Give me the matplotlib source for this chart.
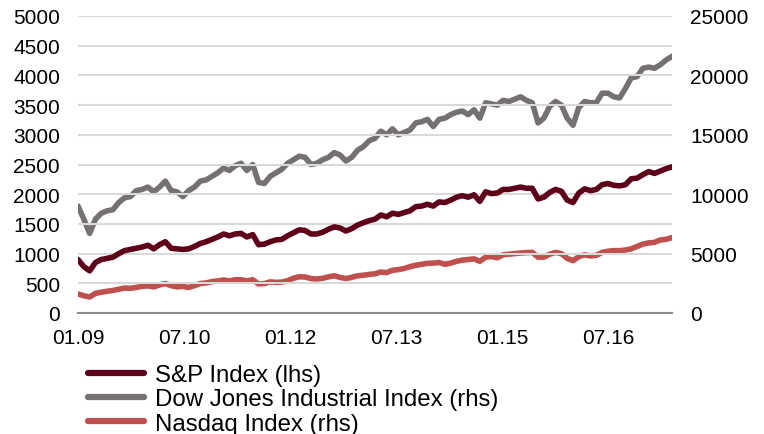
import matplotlib
matplotlib.use("Agg")
import matplotlib.pyplot as plt
import numpy as np
from matplotlib.lines import Line2D

plt.rcParams['font.family'] = ['Liberation Sans', 'DejaVu Sans']

# Monthly readings, Jan 2009 .. Jul 2017
sp_index = [
    900, 780, 710, 850, 900, 920, 940, 1000, 1050, 1070, 1090, 1110,
    1140, 1080, 1150, 1200, 1090, 1080, 1070, 1080, 1120, 1170, 1200, 1240,
    1280, 1330, 1300, 1330, 1340, 1280, 1320, 1150, 1160, 1200, 1230, 1240,
    1300, 1350, 1400, 1390, 1330, 1330, 1360, 1410, 1450, 1430, 1380, 1420,
    1480, 1520, 1555, 1580, 1650, 1620, 1680, 1660, 1690, 1720, 1790, 1800,
    1830, 1800, 1870, 1860, 1900, 1950, 1975, 1950, 1990, 1880, 2040, 2010,
    2020, 2080, 2080, 2100, 2120, 2100, 2100, 1920, 1950, 2030, 2080, 2050,
    1900, 1860, 2020, 2090, 2060, 2080, 2160, 2180, 2150, 2140, 2160, 2260,
    2270, 2330, 2380, 2350, 2390, 2430, 2460,
]
dow_index = [
    9000, 7900, 6700, 7900, 8400, 8600, 8700, 9300, 9700, 9800, 10300, 10400,
    10600, 10200, 10600, 11100, 10300, 10200, 9800, 10300, 10600, 11100, 11200, 11500,
    11800, 12200, 12000, 12400, 12600, 12000, 12500, 11000, 10900, 11500, 11800, 12100,
    12600, 12900, 13200, 13100, 12500, 12600, 12900, 13100, 13500, 13300, 12800, 13100,
    13700, 14000, 14500, 14700, 15300, 15000, 15500, 15000, 15200, 15400, 16000, 16100,
    16300, 15700, 16300, 16400, 16700, 16900, 17000, 16700, 17100, 16400, 17700, 17600,
    17500, 17900, 17800, 18000, 18200, 17900, 17700, 16000, 16400, 17400, 17800, 17500,
    16400, 15800, 17300, 17800, 17700, 17700, 18500, 18500, 18200, 18100, 18900, 19800,
    19900, 20600, 20700, 20600, 20900, 21300, 21600,
]
nasdaq_index = [
    1600, 1450, 1350, 1650, 1750, 1830, 1900, 2000, 2100, 2080, 2150, 2250,
    2280, 2200, 2360, 2480, 2300, 2200, 2240, 2150, 2300, 2480, 2530, 2640,
    2700, 2780, 2700, 2800, 2800, 2700, 2800, 2450, 2480, 2620, 2580, 2600,
    2720, 2930, 3050, 3030, 2900, 2860, 2920, 3040, 3130, 3000, 2900, 3000,
    3130, 3180, 3250, 3300, 3450, 3400, 3600, 3650, 3750, 3900, 4020, 4100,
    4180, 4200, 4250, 4100, 4200, 4350, 4450, 4500, 4560, 4350, 4700, 4750,
    4650, 4900, 4950, 5000, 5050, 5080, 5100, 4700, 4700, 4950, 5100, 5000,
    4600, 4400, 4750, 4900, 4800, 4850, 5100, 5200, 5250, 5250, 5300, 5400,
    5600, 5800, 5900, 5950, 6150, 6200, 6350,
]
tick_labels = ["01.09", "07.10", "01.12", "07.13", "01.15", "07.16"]
series_labels = ["S&P Index (lhs)", "Dow Jones Industrial Index (rhs)", "Nasdaq Index (rhs)"]

c_sp = "#5E0018"
c_dow = "#767171"
c_nas = "#C0504D"

fig = plt.figure(figsize=(7.64, 4.35), dpi=100)
ax = fig.add_axes([78/764, 1-314/435, 594/764, 297/435])
ax2 = ax.twinx()

months = np.arange(len(sp_index))
lw = 4.0
ax2.plot(months, dow_index, color=c_dow, lw=lw, solid_capstyle='round', solid_joinstyle='round')
ax2.plot(months, nasdaq_index, color=c_nas, lw=lw, solid_capstyle='round', solid_joinstyle='round')
ax.plot(months, sp_index, color=c_sp, lw=lw, solid_capstyle='round', solid_joinstyle='round')
ax.set_zorder(ax2.get_zorder() + 1)
ax.patch.set_visible(False)

ax.set_xlim(0, len(sp_index) - 1)
ax.set_ylim(0, 5000)
ax2.set_ylim(0, 25000)
ax.set_yticks(np.arange(0, 5001, 500))
ax2.set_yticks(np.arange(0, 25001, 5000))
ax.set_xticks(np.arange(len(tick_labels)) * 18.2)
ax.set_xticklabels(tick_labels)

ax.grid(axis='y', color='#D9D9D9', lw=1.5)
ax.set_axisbelow(True)
for a in (ax, ax2):
    for s in a.spines.values():
        s.set_visible(False)
ax.spines['bottom'].set_visible(True)
ax.spines['bottom'].set_color('#8C8C8C')
ax.spines['bottom'].set_linewidth(1.5)

ax.tick_params(axis='y', length=0, pad=13, labelsize=15)
ax2.tick_params(axis='y', length=0, pad=13, labelsize=15)
ax.tick_params(axis='x', length=0, pad=11, labelsize=15)

handles = [Line2D([], [], color=c, lw=4.5, solid_capstyle='round') for c in (c_sp, c_dow, c_nas)]
fig.legend(handles, series_labels, loc='upper left', bbox_to_anchor=(88/764, 1-365/435),
           frameon=False, fontsize=17.3, handlelength=2.35, handletextpad=0.45,
           labelspacing=0.1, borderpad=0, borderaxespad=0)

fig.savefig("out.png", dpi=100)
